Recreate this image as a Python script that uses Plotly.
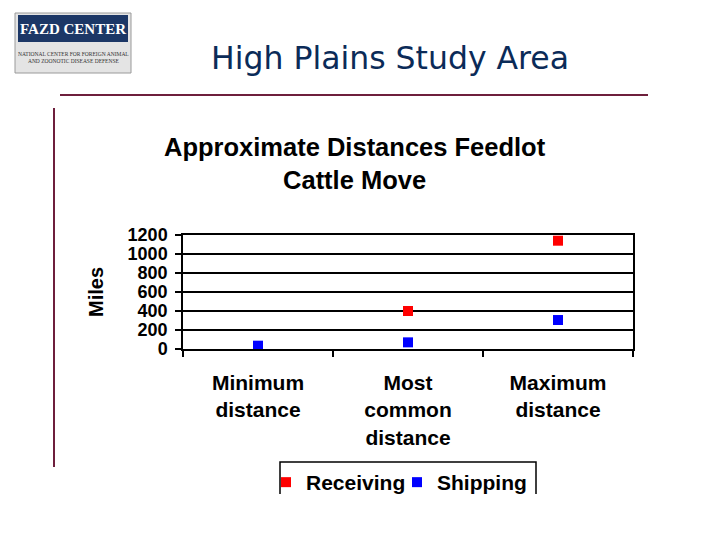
import plotly.graph_objects as go

categories = ["Minimum<br>distance", "Most<br>common<br>distance", "Maximum<br>distance"]
receiving = [30, 400, 1140]
shipping = [35, 70, 305]
y_ticks = [0, 200, 400, 600, 800, 1000, 1200]

W, H = 720, 540
L, R, T, B = 183, 633, 235, 349

def px(x):
    return (x - L) / (R - L)

def py(y):
    return (B - y) / (B - T)

bold = dict(family="Liberation Sans, Arial, sans-serif", color="black", weight="bold")

fig = go.Figure()
fig.add_trace(go.Scatter(x=categories, y=receiving, mode="markers", name="Receiving",
                         marker=dict(symbol="square", size=10, color="#FF0000")))
fig.add_trace(go.Scatter(x=categories, y=shipping, mode="markers", name="Shipping",
                         marker=dict(symbol="square", size=10, color="#0000FF")))

fig.update_layout(
    width=W, height=H,
    margin=dict(l=L, r=W - R, t=T, b=H - B, autoexpand=False),
    paper_bgcolor="white", plot_bgcolor="white",
    showlegend=True,
    legend=dict(orientation="h", xref="container", yref="container",
                x=266 / W, y=1 - 462 / H, xanchor="left", yanchor="top",
                font=dict(size=21, **bold), bgcolor="rgba(0,0,0,0)",
                borderwidth=0, itemwidth=30, tracegroupgap=0,
                entrywidth=86, entrywidthmode="pixels"),
)
fig.update_xaxes(type="category", range=[-0.5, 2.5], showgrid=False, showline=True, linecolor="black",
                 linewidth=1.5, mirror=True, ticks="outside", tickson="boundaries", ticklen=6,
                 tickcolor="black", tickwidth=1.5, tickfont=dict(size=21, **bold), ticklabelstandoff=14)
fig.update_yaxes(range=[0, 1200], tickvals=y_ticks, ticktext=[str(v) for v in y_ticks],
                 showgrid=True, gridcolor="black", gridwidth=1.5, zeroline=False,
                 showline=True, linecolor="black", linewidth=1.5, mirror=True,
                 ticks="outside", ticklen=6, tickcolor="black", tickwidth=1.5,
                 tickfont=dict(size=18, **bold), ticklabelstandoff=4)

shapes = []
# slide rules
shapes.append(dict(type="line", xref="paper", yref="paper", x0=px(60), x1=px(648), y0=py(95), y1=py(95),
                   line=dict(color="#6E1F3C", width=2)))
shapes.append(dict(type="line", xref="paper", yref="paper", x0=px(54), x1=px(54), y0=py(108), y1=py(467),
                   line=dict(color="#6E1F3C", width=2)))
# logo
shapes.append(dict(type="rect", xref="paper", yref="paper", x0=px(15), x1=px(131), y0=py(13), y1=py(73),
                   line=dict(color="#9A9A9A", width=1), fillcolor="#E4E4E4"))
shapes.append(dict(type="rect", xref="paper", yref="paper", x0=px(18), x1=px(128), y0=py(15), y1=py(42),
                   line=dict(width=0), fillcolor="#1C3766"))
# legend box (no bottom edge)
shapes.append(dict(type="path", xref="paper", yref="paper",
                   path=f"M {px(280)},{py(494)} L {px(280)},{py(462)} L {px(536)},{py(462)} L {px(536)},{py(494)}",
                   line=dict(color="black", width=1.5)))
fig.update_layout(shapes=shapes)

ann = []
ann.append(dict(text="High Plains Study Area", xref="paper", yref="paper", x=px(390), y=py(58),
                showarrow=False, xanchor="center", yanchor="middle",
                font=dict(family="DejaVu Sans, Verdana, sans-serif", size=31.5, color="#0B2B58")))
ann.append(dict(text="Approximate Distances Feedlot<br>Cattle Move", xref="paper", yref="paper",
                x=px(355), y=py(163), showarrow=False, xanchor="center", yanchor="middle",
                font=dict(size=25.5, **bold)))
ann.append(dict(text="Miles", xref="paper", yref="paper", x=px(96), y=py(292), textangle=-90,
                showarrow=False, xanchor="center", yanchor="middle", font=dict(size=20, **bold)))
ann.append(dict(text="FAZD CENTER", xref="paper", yref="paper", x=px(73), y=py(29),
                showarrow=False, xanchor="center", yanchor="middle",
                font=dict(family="Liberation Serif, Times New Roman, serif", size=15, color="white", weight="bold")))
ann.append(dict(text="NATIONAL CENTER FOR FOREIGN ANIMAL<br>AND ZOONOTIC DISEASE DEFENSE", xref="paper", yref="paper",
                x=px(73), y=py(57), showarrow=False, xanchor="center", yanchor="middle",
                font=dict(family="Liberation Serif, Times New Roman, serif", size=5.5, color="#333333")))
fig.update_layout(annotations=ann)

fig.write_html("out.html", config={"displayModeBar": False},
               post_script="document.body.style.margin='0';")
